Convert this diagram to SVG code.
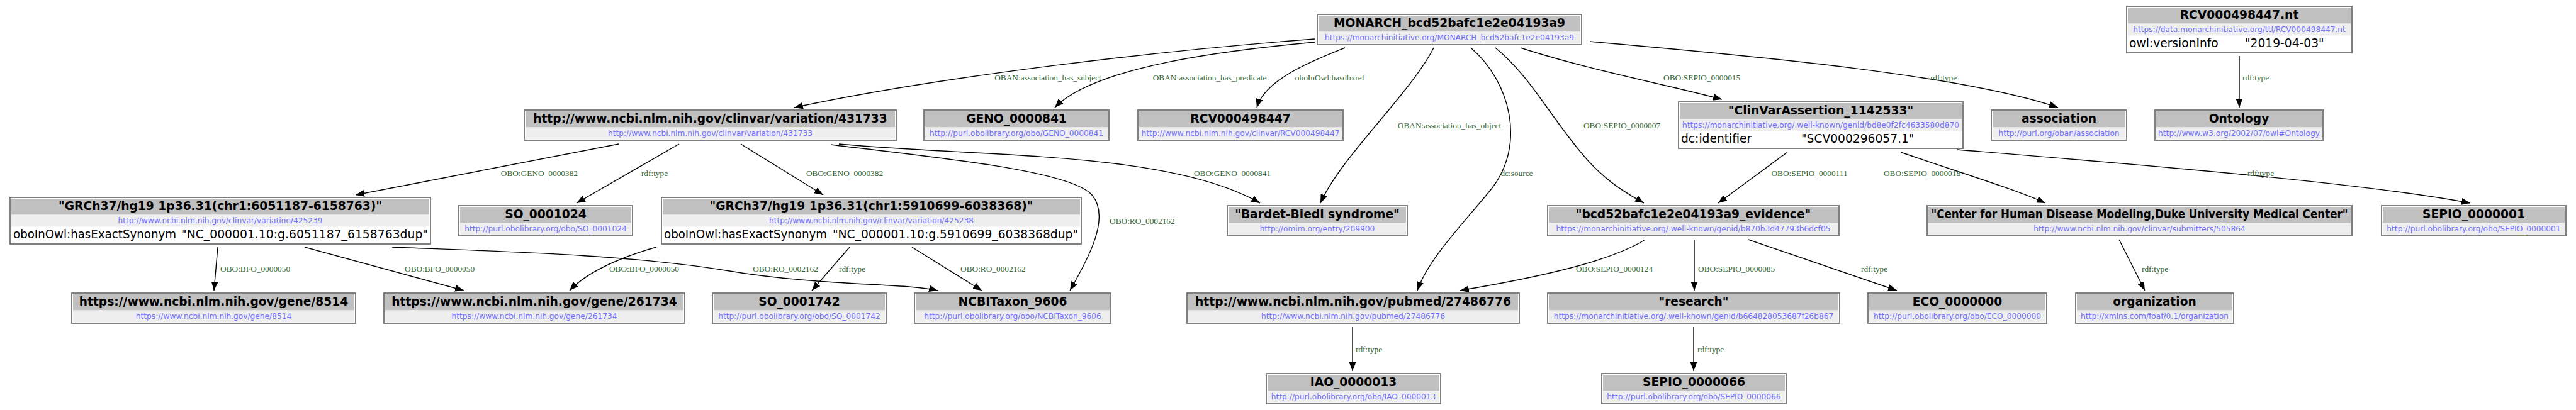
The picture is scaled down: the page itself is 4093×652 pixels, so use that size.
<svg xmlns="http://www.w3.org/2000/svg" width="4093" height="652" viewBox="0 0 4093 652">
<style>
.box{fill:#fff;stroke:#808080;stroke-width:2}
.hd{fill:#c0c0c0}
.ub{fill:#eeeeee}
.t{font-family:"DejaVu Sans",sans-serif;font-weight:bold;font-size:18.67px;text-anchor:middle;fill:#000}
.u{font-family:"DejaVu Sans",sans-serif;font-size:12.2px;text-anchor:middle;fill:#7070ff}
.p{font-family:"DejaVu Sans",sans-serif;font-size:18.67px;fill:#000}
.e{fill:none;stroke:#000;stroke-width:1.4;marker-end:url(#ah)}
.l{font-family:"Liberation Serif",serif;font-size:13.33px;fill:#336633}
.m{text-anchor:middle}
.r{text-anchor:end}
</style>
<defs>
<marker id="ah" markerWidth="14" markerHeight="11" refX="14" refY="5.5" orient="auto" markerUnits="userSpaceOnUse"><path d="M0,0 L14,5.5 L0,11 z" fill="#000"/></marker>
</defs>
<rect width="4093" height="652" fill="#fff"/>

<g id="edges">
<path class="e" d="M2089,62 C1850,80 1500,120 1262,171"/>
<text class="l m" x="1665" y="127.5">OBAN:association_has_subject</text>
<path class="e" d="M2089,67 C1950,80 1740,105 1676,171"/>
<text class="l m" x="1922" y="127.5">OBAN:association_has_predicate</text>
<path class="e" d="M2137,76 C2090,95 2010,125 1997,171"/>
<text class="l m" x="2113" y="127.5">oboInOwl:hasdbxref</text>
<path class="e" d="M2278,76 C2240,150 2130,250 2098,323"/>
<text class="l m" x="2303" y="203.5">OBAN:association_has_object</text>
<path class="e" d="M2337,76 C2400,130 2425,230 2370,300 C2330,350 2270,410 2252,462"/>
<text class="l m" x="2410" y="279.5">dc:source</text>
<path class="e" d="M2376,76 C2430,120 2460,180 2510,240 C2550,290 2590,310 2612,323"/>
<text class="l m" x="2577" y="203.5">OBO:SEPIO_0000007</text>
<path class="e" d="M2416,76 C2520,110 2650,135 2736,158"/>
<text class="l" x="2643" y="127.5">OBO:SEPIO_0000015</text>
<path class="e" d="M2526,66 C2800,90 3120,120 3270,171"/>
<text class="l m" x="3088" y="127.5">rdf:type</text>
<path class="e" d="M3558,89 L3558,171"/>
<text class="l" x="3563" y="127.5">rdf:type</text>
<path class="e" d="M983,229 L565,310"/>
<text class="l r" x="918" y="279.5">OBO:GENO_0000382</text>
<path class="e" d="M1079,229 L916,323"/>
<text class="l m" x="1040" y="279.5">rdf:type</text>
<path class="e" d="M1177,229 L1308,310"/>
<text class="l m" x="1342" y="279.5">OBO:GENO_0000382</text>
<path class="e" d="M1333,229 C1560,250 1860,240 2002,323"/>
<text class="l m" x="1958" y="279.5">OBO:GENO_0000841</text>
<path class="e" d="M1320,230 C1480,250 1700,270 1735,310 C1765,345 1730,410 1700,462"/>
<text class="l" x="1763" y="355.5">OBO:RO_0002162</text>
<path class="e" d="M346,393 L340,462"/>
<text class="l" x="350" y="431.5">OBO:BFO_0000050</text>
<path class="e" d="M484,393 L737,462"/>
<text class="l" x="643" y="431.5">OBO:BFO_0000050</text>
<path class="e" d="M623,393 C800,400 1000,405 1153,430 C1300,455 1440,450 1490,462"/>
<text class="l m" x="1248" y="431.5">OBO:RO_0002162</text>
<path class="e" d="M1043,393 C1010,402 940,425 905,462"/>
<text class="l r" x="1079" y="431.5">OBO:BFO_0000050</text>
<path class="e" d="M1350,393 L1290,462"/>
<text class="l" x="1333" y="431.5">rdf:type</text>
<path class="e" d="M1449,393 L1560,462"/>
<text class="l" x="1526" y="431.5">OBO:RO_0002162</text>
<path class="e" d="M2840,242 L2730,323"/>
<text class="l m" x="2875" y="279.5">OBO:SEPIO_0000111</text>
<path class="e" d="M3020,242 C3100,270 3200,300 3250,323"/>
<text class="l m" x="3054" y="279.5">OBO:SEPIO_0000018</text>
<path class="e" d="M3110,238 C3400,262 3750,290 3925,323"/>
<text class="l m" x="3592" y="279.5">rdf:type</text>
<path class="e" d="M2614,381 C2560,415 2450,440 2320,462"/>
<text class="l m" x="2565" y="431.5">OBO:SEPIO_0000124</text>
<path class="e" d="M2692,381 L2692,462"/>
<text class="l" x="2698" y="431.5">OBO:SEPIO_0000085</text>
<path class="e" d="M2778,381 L3014,462"/>
<text class="l" x="2957" y="431.5">rdf:type</text>
<path class="e" d="M3367,381 L3408,462"/>
<text class="l" x="3403" y="431.5">rdf:type</text>
<path class="e" d="M2149,520 L2149,590"/>
<text class="l" x="2154" y="559.5">rdf:type</text>
<path class="e" d="M2691,520 L2691,590"/>
<text class="l" x="2697" y="559.5">rdf:type</text>
</g>

<g id="n-monarch">
<rect class="box" x="2093" y="23" width="420" height="48"/><rect class="hd" x="2095" y="25" width="416" height="25.5"/><rect class="ub" x="2095" y="50.5" width="416" height="19"/>
<text class="t" x="2303" y="42.5">MONARCH_bcd52bafc1e2e04193a9</text>
<text class="u" x="2303" y="63.5">https://monarchinitiative.org/MONARCH_bcd52bafc1e2e04193a9</text>
</g>
<g id="n-rcvnt">
<rect class="box" x="3379" y="10" width="358" height="74"/><rect class="hd" x="3381" y="12" width="354" height="25.5"/><rect class="ub" x="3381" y="37.5" width="354" height="19"/>
<text class="t" x="3558" y="29.5">RCV000498447.nt</text>
<text class="u" x="3558" y="50.5">https://data.monarchinitiative.org/ttl/RCV000498447.nt</text>
<text class="p" x="3383" y="75">owl:versionInfo</text><text class="p" x="3567" y="75">"2019-04-03"</text>
</g>
<g id="n-ontology">
<rect class="box" x="3424" y="175" width="267" height="48"/><rect class="hd" x="3426" y="177" width="263" height="25.5"/><rect class="ub" x="3426" y="202.5" width="263" height="19"/>
<text class="t" x="3557.5" y="194.5">Ontology</text>
<text class="u" x="3557.5" y="215.5">http://www.w3.org/2002/07/owl#Ontology</text>
</g>
<g id="n-association">
<rect class="box" x="3164" y="175" width="215" height="48"/><rect class="hd" x="3166" y="177" width="211" height="25.5"/><rect class="ub" x="3166" y="202.5" width="211" height="19"/>
<text class="t" x="3271.5" y="194.5">association</text>
<text class="u" x="3271.5" y="215.5">http://purl.org/oban/association</text>
</g>
<g id="n-variation">
<rect class="box" x="833" y="175" width="591" height="48"/><rect class="hd" x="835" y="177" width="587" height="25.5"/><rect class="ub" x="835" y="202.5" width="587" height="19"/>
<text class="t" x="1128.5" y="194.5">http://www.ncbi.nlm.nih.gov/clinvar/variation/431733</text>
<text class="u" x="1128.5" y="215.5">http://www.ncbi.nlm.nih.gov/clinvar/variation/431733</text>
</g>
<g id="n-geno841">
<rect class="box" x="1468" y="175" width="294" height="48"/><rect class="hd" x="1470" y="177" width="290" height="25.5"/><rect class="ub" x="1470" y="202.5" width="290" height="19"/>
<text class="t" x="1615" y="194.5">GENO_0000841</text>
<text class="u" x="1615" y="215.5">http://purl.obolibrary.org/obo/GENO_0000841</text>
</g>
<g id="n-rcv">
<rect class="box" x="1808" y="175" width="326" height="48"/><rect class="hd" x="1810" y="177" width="322" height="25.5"/><rect class="ub" x="1810" y="202.5" width="322" height="19"/>
<text class="t" x="1971" y="194.5">RCV000498447</text>
<text class="u" x="1971" y="215.5">http://www.ncbi.nlm.nih.gov/clinvar/RCV000498447</text>
</g>
<g id="n-clinvar">
<rect class="box" x="2667" y="162" width="452" height="74"/><rect class="hd" x="2669" y="164" width="448" height="25.5"/><rect class="ub" x="2669" y="189.5" width="448" height="19"/>
<text class="t" x="2893" y="181.5">"ClinVarAssertion_1142533"</text>
<text class="u" x="2893" y="202.5">https://monarchinitiative.org/.well-known/genid/bd8e0f2fc4633580d870</text>
<text class="p" x="2671" y="227">dc:identifier</text><text class="p" x="2862" y="227">"SCV000296057.1"</text>
</g>
<g id="n-grch-a">
<rect class="box" x="16" y="314" width="668" height="74"/><rect class="hd" x="18" y="316" width="664" height="25.5"/><rect class="ub" x="18" y="341.5" width="664" height="19"/>
<text class="t" x="350" y="333.5">"GRCh37/hg19 1p36.31(chr1:6051187-6158763)"</text>
<text class="u" x="350" y="354.5">http://www.ncbi.nlm.nih.gov/clinvar/variation/425239</text>
<text class="p" x="21" y="379" textLength="259" lengthAdjust="spacingAndGlyphs">oboInOwl:hasExactSynonym</text><text class="p" x="288" y="379" textLength="392" lengthAdjust="spacingAndGlyphs">"NC_000001.10:g.6051187_6158763dup"</text>
</g>
<g id="n-so1024">
<rect class="box" x="729" y="327" width="276" height="48"/><rect class="hd" x="731" y="329" width="272" height="25.5"/><rect class="ub" x="731" y="354.5" width="272" height="19"/>
<text class="t" x="867" y="346.5">SO_0001024</text>
<text class="u" x="867" y="367.5">http://purl.obolibrary.org/obo/SO_0001024</text>
</g>
<g id="n-grch-b">
<rect class="box" x="1051" y="314" width="667" height="74"/><rect class="hd" x="1053" y="316" width="663" height="25.5"/><rect class="ub" x="1053" y="341.5" width="663" height="19"/>
<text class="t" x="1384.5" y="333.5">"GRCh37/hg19 1p36.31(chr1:5910699-6038368)"</text>
<text class="u" x="1384.5" y="354.5">http://www.ncbi.nlm.nih.gov/clinvar/variation/425238</text>
<text class="p" x="1055" y="379" textLength="259" lengthAdjust="spacingAndGlyphs">oboInOwl:hasExactSynonym</text><text class="p" x="1323" y="379" textLength="390" lengthAdjust="spacingAndGlyphs">"NC_000001.10:g.5910699_6038368dup"</text>
</g>
<g id="n-bardet">
<rect class="box" x="1950" y="327" width="286" height="48"/><rect class="hd" x="1952" y="329" width="282" height="25.5"/><rect class="ub" x="1952" y="354.5" width="282" height="19"/>
<text class="t" x="2093" y="346.5">"Bardet-Biedl syndrome"</text>
<text class="u" x="2093" y="367.5">http://omim.org/entry/209900</text>
</g>
<g id="n-evidence">
<rect class="box" x="2459" y="327" width="463" height="48"/><rect class="hd" x="2461" y="329" width="459" height="25.5"/><rect class="ub" x="2461" y="354.5" width="459" height="19"/>
<text class="t" x="2690.5" y="346.5">"bcd52bafc1e2e04193a9_evidence"</text>
<text class="u" x="2690.5" y="367.5">https://monarchinitiative.org/.well-known/genid/b870b3d47793b6dcf05</text>
</g>
<g id="n-center">
<rect class="box" x="3062" y="327" width="675" height="48"/><rect class="hd" x="3064" y="329" width="671" height="25.5"/><rect class="ub" x="3064" y="354.5" width="671" height="19"/>
<text class="t" x="3399.5" y="346.5" textLength="662" lengthAdjust="spacingAndGlyphs">"Center for Human Disease Modeling,Duke University Medical Center"</text>
<text class="u" x="3399.5" y="367.5">http://www.ncbi.nlm.nih.gov/clinvar/submitters/505864</text>
</g>
<g id="n-sepio1">
<rect class="box" x="3784" y="327" width="293" height="48"/><rect class="hd" x="3786" y="329" width="289" height="25.5"/><rect class="ub" x="3786" y="354.5" width="289" height="19"/>
<text class="t" x="3930.5" y="346.5">SEPIO_0000001</text>
<text class="u" x="3930.5" y="367.5">http://purl.obolibrary.org/obo/SEPIO_0000001</text>
</g>
<g id="n-gene8514">
<rect class="box" x="114" y="466" width="451" height="48"/><rect class="hd" x="116" y="468" width="447" height="25.5"/><rect class="ub" x="116" y="493.5" width="447" height="19"/>
<text class="t" x="339.5" y="485.5">https://www.ncbi.nlm.nih.gov/gene/8514</text>
<text class="u" x="339.5" y="506.5">https://www.ncbi.nlm.nih.gov/gene/8514</text>
</g>
<g id="n-gene261734">
<rect class="box" x="610" y="466" width="478" height="48"/><rect class="hd" x="612" y="468" width="474" height="25.5"/><rect class="ub" x="612" y="493.5" width="474" height="19"/>
<text class="t" x="849" y="485.5">https://www.ncbi.nlm.nih.gov/gene/261734</text>
<text class="u" x="849" y="506.5">https://www.ncbi.nlm.nih.gov/gene/261734</text>
</g>
<g id="n-so1742">
<rect class="box" x="1132" y="466" width="276" height="48"/><rect class="hd" x="1134" y="468" width="272" height="25.5"/><rect class="ub" x="1134" y="493.5" width="272" height="19"/>
<text class="t" x="1270" y="485.5">SO_0001742</text>
<text class="u" x="1270" y="506.5">http://purl.obolibrary.org/obo/SO_0001742</text>
</g>
<g id="n-ncbitaxon">
<rect class="box" x="1453" y="466" width="312" height="48"/><rect class="hd" x="1455" y="468" width="308" height="25.5"/><rect class="ub" x="1455" y="493.5" width="308" height="19"/>
<text class="t" x="1609" y="485.5">NCBITaxon_9606</text>
<text class="u" x="1609" y="506.5">http://purl.obolibrary.org/obo/NCBITaxon_9606</text>
</g>
<g id="n-pubmed">
<rect class="box" x="1886" y="466" width="528" height="48"/><rect class="hd" x="1888" y="468" width="524" height="25.5"/><rect class="ub" x="1888" y="493.5" width="524" height="19"/>
<text class="t" x="2150" y="485.5">http://www.ncbi.nlm.nih.gov/pubmed/27486776</text>
<text class="u" x="2150" y="506.5">http://www.ncbi.nlm.nih.gov/pubmed/27486776</text>
</g>
<g id="n-research">
<rect class="box" x="2459" y="466" width="464" height="48"/><rect class="hd" x="2461" y="468" width="460" height="25.5"/><rect class="ub" x="2461" y="493.5" width="460" height="19"/>
<text class="t" x="2691" y="485.5">"research"</text>
<text class="u" x="2691" y="506.5">https://monarchinitiative.org/.well-known/genid/b664828053687f26b867</text>
</g>
<g id="n-eco">
<rect class="box" x="2968" y="466" width="284" height="48"/><rect class="hd" x="2970" y="468" width="280" height="25.5"/><rect class="ub" x="2970" y="493.5" width="280" height="19"/>
<text class="t" x="3110" y="485.5">ECO_0000000</text>
<text class="u" x="3110" y="506.5">http://purl.obolibrary.org/obo/ECO_0000000</text>
</g>
<g id="n-organization">
<rect class="box" x="3298" y="466" width="251" height="48"/><rect class="hd" x="3300" y="468" width="247" height="25.5"/><rect class="ub" x="3300" y="493.5" width="247" height="19"/>
<text class="t" x="3423.5" y="485.5">organization</text>
<text class="u" x="3423.5" y="506.5">http://xmlns.com/foaf/0.1/organization</text>
</g>
<g id="n-iao">
<rect class="box" x="2012" y="594" width="277" height="48"/><rect class="hd" x="2014" y="596" width="273" height="25.5"/><rect class="ub" x="2014" y="621.5" width="273" height="19"/>
<text class="t" x="2150.5" y="613.5">IAO_0000013</text>
<text class="u" x="2150.5" y="634.5">http://purl.obolibrary.org/obo/IAO_0000013</text>
</g>
<g id="n-sepio66">
<rect class="box" x="2545" y="594" width="293" height="48"/><rect class="hd" x="2547" y="596" width="289" height="25.5"/><rect class="ub" x="2547" y="621.5" width="289" height="19"/>
<text class="t" x="2691.5" y="613.5">SEPIO_0000066</text>
<text class="u" x="2691.5" y="634.5">http://purl.obolibrary.org/obo/SEPIO_0000066</text>
</g>
</svg>
